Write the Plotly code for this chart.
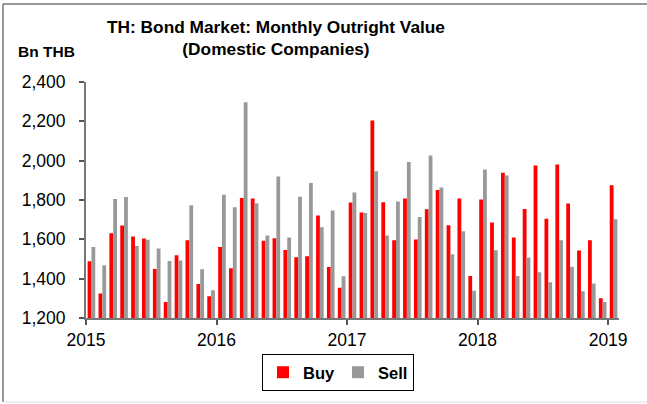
import plotly.graph_objects as go

# Months Jan 2015 .. Jan 2019
months = [f"{y}-{m:02d}" for y in range(2015, 2020) for m in range(1, 13)][:49]

buy = [1488, 1324, 1631, 1670, 1615, 1604, 1449, 1281, 1519, 1595, 1373, 1310,
       1561, 1453, 1810, 1807, 1593, 1605, 1546, 1509, 1514, 1721, 1459, 1354,
       1787, 1737, 2204, 1788, 1595, 1807, 1599, 1753, 1851, 1671, 1807, 1414,
       1802, 1685, 1939, 1609, 1754, 1976, 1705, 1980, 1782, 1543, 1595, 1300,
       1875]
sell = [1561, 1468, 1805, 1815, 1566, 1598, 1554, 1490, 1492, 1773, 1448, 1341,
        1827, 1763, 2297, 1783, 1620, 1919, 1609, 1817, 1887, 1661, 1746, 1412,
        1838, 1734, 1946, 1620, 1793, 1993, 1714, 2026, 1863, 1524, 1641, 1339,
        1955, 1544, 1924, 1414, 1507, 1432, 1382, 1595, 1461, 1336, 1376, 1281,
        1702]

year_ticks = [0, 12, 24, 36, 48]
year_labels = ["2015", "2016", "2017", "2018", "2019"]
y_ticks = [1200, 1400, 1600, 1800, 2000, 2200, 2400]
y_labels = ["1,200", "1,400", "1,600", "1,800", "2,000", "2,200", "2,400"]

xpos = [i + 0.5 for i in range(len(months))]

FONT = "Liberation Sans, Arial, sans-serif"

fig = go.Figure()
fig.add_trace(go.Bar(x=xpos, y=buy, name="<b>Buy</b>", marker=dict(color="#FF0000", line=dict(width=0)),
                     customdata=months))
fig.add_trace(go.Bar(x=xpos, y=sell, name="<b>Sell</b>", marker=dict(color="#999999", line=dict(width=0)),
                     customdata=months))

W, H = 647, 404
L, R, T, B = 86, 28, 82, 86

fig.update_layout(
    width=W, height=H,
    margin=dict(l=L, r=R, t=T, b=B, autoexpand=False),
    paper_bgcolor="white", plot_bgcolor="white",
    barmode="group", bargap=0.3, bargroupgap=0,
    font=dict(family=FONT, color="black", size=17),
    title=dict(text="<b>TH: Bond Market: Monthly Outright Value<br>(Domestic Companies)</b>",
               x=276 / W, xref="container", xanchor="center",
               y=1 - 33 / H, yref="container", yanchor="top",
               font=dict(family=FONT, size=17.3, color="black")),
    xaxis=dict(range=[0, 49], tickmode="array", tickvals=year_ticks, ticktext=year_labels,
               ticks="outside", ticklen=5, tickcolor="#555555", tickwidth=1.5,
               showline=True, linecolor="#777777", linewidth=2, showgrid=False, zeroline=False,
               tickfont=dict(size=17.5), fixedrange=True),
    yaxis=dict(range=[1200, 2400], tickmode="array", tickvals=y_ticks, ticktext=y_labels,
               ticks="outside", ticklen=5, tickcolor="#555555", tickwidth=1.5,
               showline=True, linecolor="#777777", linewidth=2, showgrid=False, zeroline=False,
               tickfont=dict(size=17.5), ticklabelstandoff=10),
    legend=dict(orientation="h", x=(262 - L) / (W - L - R), y=(H - B - 354) / (H - T - B),
                xanchor="left", yanchor="top", bordercolor="black", borderwidth=1,
                font=dict(size=16.5, family=FONT), itemwidth=30, traceorder="normal",
                entrywidth=30, entrywidthmode="pixels"),
    showlegend=True,
    annotations=[dict(text="<b>Bn THB</b>", xref="paper", yref="paper",
                      x=(16 - L) / (W - L - R), y=(H - B - 52) / (H - T - B),
                      xanchor="left", yanchor="middle", showarrow=False,
                      font=dict(size=15.5, family=FONT, color="black"))],
)

# outer frame
pw, ph = W - L - R, H - T - B
def px(x):
    return (x - L) / pw
def py(y):
    return (H - B - y) / ph
fig.add_shape(type="line", xref="paper", yref="paper", x0=px(3), x1=px(3), y0=py(4), y1=py(402),
              line=dict(color="#777777", width=1.5))
fig.add_shape(type="line", xref="paper", yref="paper", x0=px(3), x1=px(647), y0=py(4), y1=py(4),
              line=dict(color="#777777", width=1.5))
fig.add_shape(type="line", xref="paper", yref="paper", x0=px(3), x1=px(647), y0=py(402), y1=py(402),
              line=dict(color="#dddddd", width=1))

fig.write_html("out.html", config={"displayModeBar": False},
               post_script="document.body.style.margin='0';document.body.style.overflow='hidden';"
                           "document.documentElement.style.overflow='hidden';")
